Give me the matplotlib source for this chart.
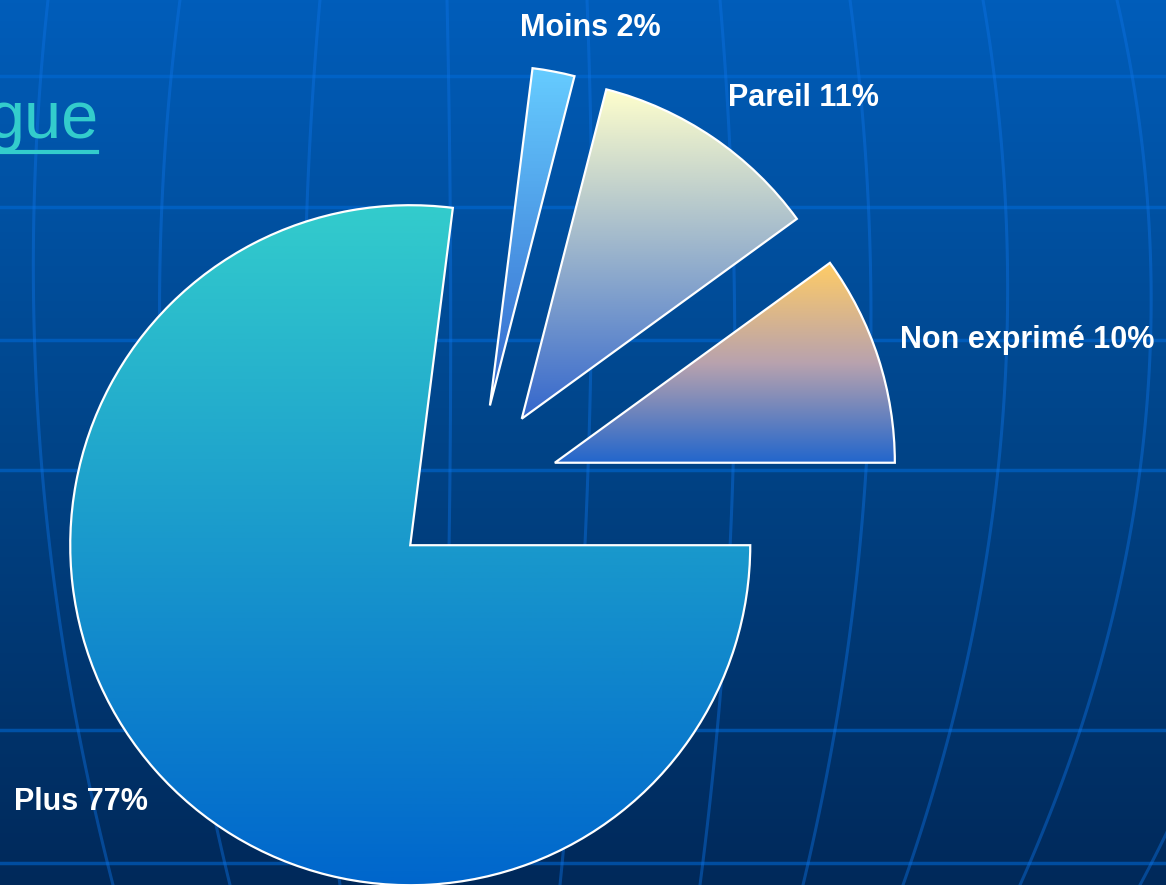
import numpy as np
import matplotlib.pyplot as plt
from matplotlib.colors import LinearSegmentedColormap

plt.rcParams['font.family'] = ['Liberation Sans', 'DejaVu Sans']

# données du graphique
categories = ['Non exprimé', 'Pareil', 'Moins', 'Plus']
values = [10, 11, 2, 77]

# couleurs des dégradés (du haut vers le bas) pour chaque part
grad_colors = [['#FFCC66', '#B8A2AE', '#2266CC'],
               ['#FFFFCC', '#3366CC'],
               ['#66CCFF', '#3366CC'],
               ['#33CCCC', '#0066CC']]

# mise en page (pixels de l'image, y vers le haut)
W, H = 1166, 885
radius = 340
center = (474, 396)
label_xy = [(1027, H - 340), (803, H - 98), (590, H - 28), (81, H - 802)]

fig = plt.figure(figsize=(W / 100, H / 100), dpi=100)
ax = fig.add_axes([0, 0, 1, 1])

# fond dégradé bleu
bg = LinearSegmentedColormap.from_list('bg', ['#00295A', '#004488', '#005DBA'])
ax.imshow(np.linspace(0, 1, 256).reshape(-1, 1), cmap=bg, origin='lower',
          extent=[0, W, 0, H], aspect='auto', zorder=0)

# grille décorative (lignes horizontales + méridiens courbes)
for y in [76, 207, 340, 470, 730, 863]:
    ax.axhline(H - y, color=(0.0, 0.42, 0.85), alpha=0.55, lw=2.5, zorder=1)
meridians = [(48, 42, 113), (180, 165, 230), (320, 306, 340), (447, 450, 440),
             (587, 588, 560), (720, 733, 700), (850, 866, 803), (983, 998, 903),
             (1117, 1140, 1020), (1250, 1282, 1140)]
ys = np.linspace(0, H, 100)
for xt, xm, xb in meridians:
    coef = np.polyfit([0, 470, H], [xt, xm, xb], 2)
    ax.plot(np.polyval(coef, ys), H - ys, color=(0.05, 0.45, 0.9), alpha=0.42, lw=2.2, zorder=1)

# camembert éclaté
explode = [0.25 * radius] * len(values)
wedges, _ = ax.pie(values, startangle=0, counterclock=True, radius=radius, center=center,
                   explode=explode,
                   wedgeprops=dict(facecolor='none', edgecolor='white', linewidth=1.6, zorder=3))

for w, cols in zip(wedges, grad_colors):
    bb = w.get_path().get_extents()
    cmap = LinearSegmentedColormap.from_list('g', cols)
    im = ax.imshow(np.linspace(0, 1, 256).reshape(-1, 1), cmap=cmap, origin='upper',
                   extent=[bb.x0, bb.x1, bb.y0, bb.y1], aspect='auto', zorder=2)
    im.set_clip_path(w)

for name, v, (x, y) in zip(categories, values, label_xy):
    ax.text(x, y, f'{name} {v}%', color='white', fontsize=22, fontweight='bold',
            ha='center', va='center', zorder=4)

# lien tronqué en haut à gauche
ax.text(98, H - 138, 'gue', color='#33CCCC', fontsize=48, ha='right', va='baseline', zorder=4)
ax.plot([0, 97], [H - 152, H - 152], color='#33CCCC', lw=3, zorder=4)

ax.set_xlim(0, W)
ax.set_ylim(0, H)
ax.axis('off')
fig.savefig('out.png', dpi=100)
